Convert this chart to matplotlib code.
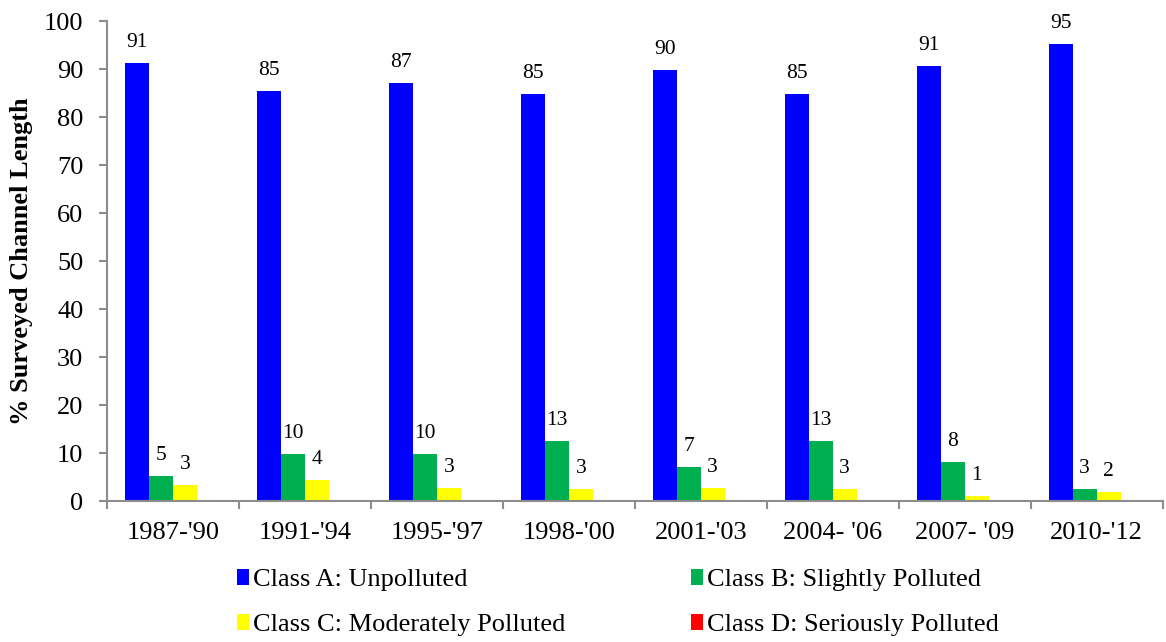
import matplotlib.pyplot as plt
import numpy as np
from matplotlib.patches import Patch

plt.rcParams['font.family'] = ['Liberation Serif', 'DejaVu Serif']

periods = ["1987-'90", "1991-'94", "1995-'97", "1998-'00", "2001-'03", "2004- '06", "2007- '09", "2010-'12"]
class_a = [91.2, 85.4, 87.1, 84.9, 89.9, 84.9, 90.6, 95.3]
class_b = [5.2, 9.9, 9.9, 12.6, 7.1, 12.6, 8.1, 2.6]
class_c = [3.3, 4.4, 2.8, 2.6, 2.7, 2.6, 1.0, 1.9]
class_d = [0, 0, 0, 0, 0, 0, 0, 0]

series = [class_a, class_b, class_c, class_d]
names = ['Class A: Unpolluted', 'Class B: Slightly Polluted',
         'Class C: Moderately Polluted', 'Class D: Seriously Polluted']
colors = ['#0000FF', '#00B050', '#FFFF00', '#FF0000']

fig = plt.figure(figsize=(11.66, 6.42), dpi=100)
ax = fig.add_axes([0.0918, 0.2196, 0.9052, 0.7474])

x = np.arange(len(periods))
w = 1 / 5.5
for i, (vals, c) in enumerate(zip(series, colors)):
    pos = x - 2 * w + w / 2 + i * w
    ax.bar(pos, vals, width=w, color=c, edgecolor='none')
    if i < 3:
        for px, v in zip(pos, vals):
            ax.annotate(f"{v:.0f}", (px, v), xytext=(0, 11.5), textcoords='offset points',
                        ha='center', va='baseline', fontsize=15.5)

ax.set_xlim(-0.5, len(periods) - 0.5)
ax.set_ylim(0, 100)
ax.set_yticks(range(0, 101, 10))
ax.set_xticks(x)
ax.set_xticklabels(periods)
ax.set_xticks(np.arange(-0.5, len(periods), 1), minor=True)
ax.tick_params(axis='x', which='major', length=0, labelsize=19, pad=15)
ax.tick_params(axis='x', which='minor', length=6, width=1.5, color='#8c8c8c', direction='out')
ax.tick_params(axis='y', length=6, width=1.5, color='#8c8c8c', labelsize=19, pad=11)

for s in ['top', 'right']:
    ax.spines[s].set_visible(False)
for s in ['left', 'bottom']:
    ax.spines[s].set_color('#8c8c8c')
    ax.spines[s].set_linewidth(1.5)

ax.set_ylabel('% Surveyed Channel Length', fontsize=19, fontweight='bold', labelpad=8)

# column-wise fill -> reorder so rows read A,B / C,D
order = [0, 2, 1, 3]
handles = [Patch(facecolor=colors[k], edgecolor='none') for k in order]
fig.legend(handles, [names[k] for k in order], loc='upper left', bbox_to_anchor=(0.183, 0.151), ncol=2,
           frameon=False, fontsize=19, handlelength=0.45, handleheight=0.55,
           handletextpad=0.15, columnspacing=4.75, labelspacing=0.86)

fig.savefig('out.png', dpi=100)
